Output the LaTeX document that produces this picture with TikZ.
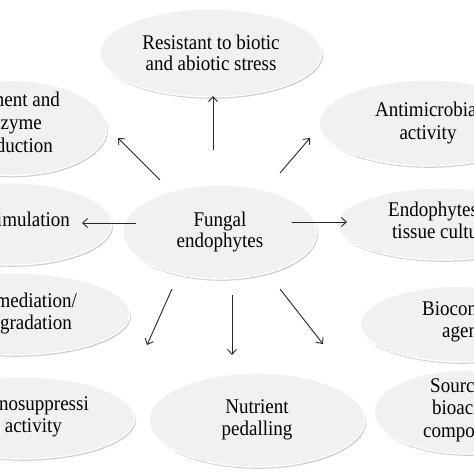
\documentclass[tikz,border=0pt]{standalone}
\usepackage{graphicx}
\usepackage{fontspec}
\setmainfont{Liberation Serif}
\usetikzlibrary{arrows.meta,shapes.geometric,shadows}
\newcommand\vsc[1]{\scalebox{1}[1.1]{#1}}
\begin{document}
\begin{tikzpicture}[x=1pt,y=-1pt,
  bub/.style={ellipse, fill=gray!11, draw=white, line width=1.3pt, inner sep=0pt,
     drop shadow={shadow xshift=1.2pt, shadow yshift=-1.8pt, opacity=0.3, fill=black!60}},
  lbl/.style={font=\fontsize{19}{21.5}\selectfont, inner sep=0pt, align=center},
  arr/.style={-{Straight Barb[length=5pt,width=9pt]}, line width=0.9pt, draw=black!85}]
\useasboundingbox (0,0) rectangle (474,474);
\fill[white] (0,0) rectangle (474,474);
\clip (0,0) rectangle (474,474);

% ellipses
\node[bub, lbl, minimum width=222pt, minimum height=88pt] (res) at (211,53) {\vsc{Resistant to biotic}\\\vsc{and abiotic stress}};
\node[bub, minimum width=190pt, minimum height=95pt] (pig) at (12,128) {};
\node[bub, minimum width=200pt, minimum height=82pt] (stim) at (12,224) {};
\node[bub, minimum width=230pt, minimum height=82pt] (biorem) at (15,314) {};
\node[bub, minimum width=226pt, minimum height=82pt] (immuno) at (22,418) {};
\node[bub, lbl, minimum width=194pt, minimum height=94pt] (fungal) at (220,232) {\vsc{Fungal}\\\vsc{endophytes}};
\node[bub, minimum width=218pt, minimum height=86pt] (anti) at (428,123) {};
\node[bub, minimum width=212pt, minimum height=72pt] (endo) at (443,224) {};
\node[bub, minimum width=204pt, minimum height=76pt] (bioc) at (462,324) {};
\node[bub, minimum width=186pt, minimum height=84pt] (source) at (467,412) {};
\node[bub, lbl, minimum width=216pt, minimum height=94pt] (nutr) at (257,420) {\vsc{Nutrient}\\\vsc{pedalling}};

% cropped texts
\node[lbl, anchor=mid east] (pig1) at (60,104) {\vsc{ment and}};
\node[lbl, anchor=mid east] (pig2) at (42,127) {\vsc{zyme}};
\node[lbl, anchor=mid east] (pig3) at (53,150) {\vsc{duction}};
\node[lbl, anchor=mid east] (stim1) at (70,224) {\vsc{imulation}};
\node[lbl, anchor=mid east] (bio1) at (77,305) {\vsc{mediation/}};
\node[lbl, anchor=mid east] (bio2) at (72,327) {\vsc{gradation}};
\node[lbl, anchor=mid east] (imm1) at (89,408) {\vsc{nosuppressi}};
\node[lbl, anchor=mid east] (imm2) at (62,430) {\vsc{activity}};
\node[lbl, anchor=mid west] (anti1) at (375,114) {\vsc{Antimicrobia}};
\node[lbl, anchor=mid] (anti2) at (428,137) {\vsc{activity}};
\node[lbl, anchor=mid west] (endo1) at (388,214) {\vsc{Endophytes}};
\node[lbl, anchor=mid west] (endo2) at (392,236) {\vsc{tissue cultu}};
\node[lbl, anchor=mid west] (bioc1) at (422,313) {\vsc{Biocon}};
\node[lbl, anchor=mid west] (bioc2) at (442,335) {\vsc{agen}};
\node[lbl, anchor=mid west] (src1) at (430,390) {\vsc{Sourc}};
\node[lbl, anchor=mid west] (src2) at (432,412) {\vsc{bioac}};
\node[lbl, anchor=mid west] (src3) at (423,435) {\vsc{compo}};

% arrow end points
\coordinate (a1s) at (213,150); \coordinate (a1e) at (213,96);
\coordinate (a2s) at (160,180); \coordinate (a2e) at (118,138);
\coordinate (a3s) at (136,223); \coordinate (a3e) at (82,223);
\coordinate (a4s) at (280,173); \coordinate (a4e) at (310,138);
\coordinate (a5s) at (292,222); \coordinate (a5e) at (347,222);
\coordinate (a6s) at (172,289); \coordinate (a6e) at (147,345);
\coordinate (a7s) at (232,295); \coordinate (a7e) at (232,355);
\coordinate (a8s) at (280,289); \coordinate (a8e) at (323,344);

\draw[arr] (a1s) -- (a1e);
\draw[arr] (a2s) -- (a2e);
\draw[arr] (a3s) -- (a3e);
\draw[arr] (a4s) -- (a4e);
\draw[arr] (a5s) -- (a5e);
\draw[arr] (a6s) -- (a6e);
\draw[arr] (a7s) -- (a7e);
\draw[arr] (a8s) -- (a8e);
\end{tikzpicture}
\end{document}
